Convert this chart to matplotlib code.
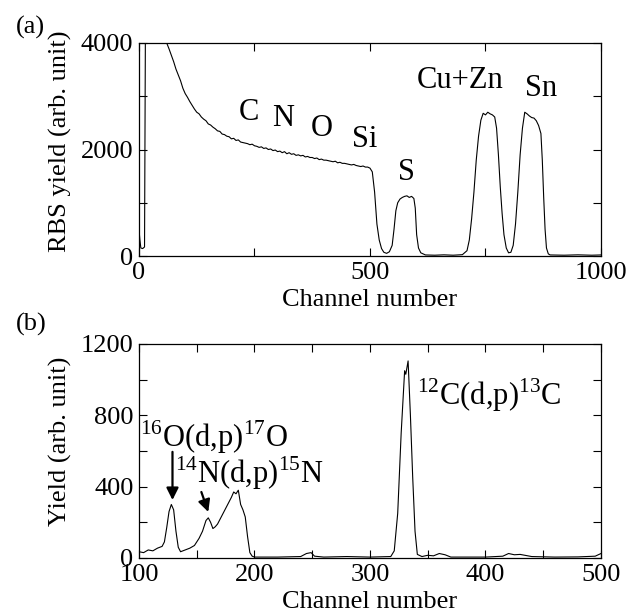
import matplotlib
matplotlib.use('Agg')
import matplotlib.pyplot as plt
from matplotlib.ticker import MultipleLocator

plt.rcParams['font.family'] = ['Liberation Serif', 'DejaVu Serif']
plt.rcParams['mathtext.fontset'] = 'custom'
plt.rcParams['mathtext.rm'] = 'Liberation Serif'

# (a) RBS spectrum
rbs_ch = [0, 2, 4, 8, 12, 14, 20, 40, 55, 60, 65, 70, 75, 80, 85, 90, 95, 100,
          105, 110, 115, 120, 125, 130, 135, 140, 145, 150, 155, 160, 165, 170,
          175, 180, 185, 190, 195, 200, 205, 210, 215, 220, 225, 230, 235, 240,
          245, 250, 255, 260, 265, 270, 275, 280, 285, 290, 295, 300, 305, 310,
          315, 320, 325, 330, 335, 340, 345, 350, 355, 360, 365, 370, 375, 380,
          385, 390, 395, 400, 405, 410, 415, 420, 425, 430, 435, 440, 445, 450,
          455, 460, 465, 470, 475, 480, 485, 490, 495, 500, 505, 510, 515, 520,
          525, 530, 536, 542, 548, 552, 556, 560, 565, 570, 575, 580, 585, 590,
          595, 598, 601, 605, 610, 620, 640, 660, 680, 700, 710, 715, 720, 725,
          730, 735, 740, 745, 750, 755, 760, 765, 770, 774, 778, 782, 786, 790,
          795, 800, 805, 810, 815, 820, 825, 830, 835, 840, 845, 850, 855, 860,
          865, 870, 873, 876, 879, 882, 886, 890, 920, 950, 980, 1000]
rbs_y = [490, 300, 150, 140, 170, 4500, 6000, 5000, 4300, 4000, 3890, 3770, 3650,
         3510, 3400, 3290, 3150, 3050, 2980, 2900, 2830, 2760, 2700, 2670, 2610,
         2570, 2540, 2480, 2460, 2420, 2390, 2350, 2340, 2290, 2280, 2250, 2240,
         2200, 2210, 2170, 2180, 2140, 2130, 2120, 2110, 2090, 2100, 2070, 2060,
         2040, 2050, 2020, 2030, 2000, 2010, 1980, 1990, 1960, 1970, 1940, 1960,
         1920, 1940, 1910, 1920, 1890, 1900, 1880, 1890, 1860, 1870, 1850, 1850,
         1830, 1840, 1810, 1820, 1800, 1800, 1790, 1780, 1770, 1780, 1750, 1760,
         1740, 1740, 1730, 1720, 1710, 1720, 1700, 1690, 1680, 1690, 1670, 1670,
         1650, 1580, 1200, 600, 300, 140, 70, 50, 80, 200, 500, 850, 1000, 1070,
         1100, 1120, 1130, 1100, 1120, 1080, 900, 400, 150, 60, 20, 15, 22, 15,
         25, 100, 300, 700, 1200, 1800, 2250, 2550, 2680, 2650, 2700, 2670, 2650,
         2610, 2400, 1900, 1300, 800, 400, 150, 60, 70, 200, 600, 1200, 1900, 2400,
         2700, 2670, 2630, 2600, 2590, 2540, 2450, 2300, 1800, 1100, 500, 150, 40,
         20, 15, 22, 15, 20]

# (b) NRA spectrum
nra_ch = [100, 104, 108, 112, 116, 120, 122, 124, 126, 128, 130, 132, 134, 136,
          140, 144, 148, 152, 155, 158, 160, 162, 164, 166, 168, 172, 176, 180,
          182, 184, 186, 188, 190, 192, 194, 196, 198, 200, 220, 240, 245, 249,
          252, 260, 280, 300, 318, 321, 324, 327, 330, 331, 333, 335, 337, 339,
          341, 345, 350, 355, 360, 365, 370, 400, 415, 420, 425, 430, 440, 460,
          480, 495, 500]
nra_y = [35, 30, 45, 40, 55, 65, 90, 170, 260, 300, 270, 150, 60, 35, 45, 55, 70,
         110, 150, 210, 225, 200, 165, 175, 190, 240, 290, 340, 370, 360, 380,
         300, 270, 230, 120, 30, 10, 5, 5, 8, 25, 30, 10, 5, 8, 5, 8, 40, 250, 700,
         1050, 1030, 1105, 800, 450, 150, 20, 8, 15, 12, 25, 18, 5, 5, 10, 25, 18,
         20, 8, 5, 6, 10, 25]

rbs_labels = ['C', 'N', 'O', 'Si', 'S', 'Cu+Zn', 'Sn']
rbs_label_x = [237, 312, 396, 489, 578, 695, 870]
rbs_label_y = [2700, 2590, 2400, 2180, 1560, 3290, 3150]

fig = plt.figure(figsize=(6.42, 6.16), dpi=100)
ax1 = fig.add_axes([0.2165, 0.5844, 0.7196, 0.3458])
ax2 = fig.add_axes([0.2165, 0.0942, 0.7196, 0.3474])

for ax in (ax1, ax2):
    ax.tick_params(which='both', direction='in', top=True, right=True,
                   labelsize=19, width=0.8)
    ax.tick_params(which='major', length=6, pad=4)
    ax.tick_params(which='minor', length=6)
    for sp in ax.spines.values():
        sp.set_linewidth(0.9)
    ax.set_xlabel('Channel number', fontsize=19, labelpad=4)

ax1.plot(rbs_ch, rbs_y, color='black', lw=0.8)
ax1.set_xlim(0, 1000)
ax1.set_ylim(0, 4000)
ax1.xaxis.set_major_locator(MultipleLocator(500))
ax1.xaxis.set_minor_locator(MultipleLocator(250))
ax1.yaxis.set_major_locator(MultipleLocator(2000))
ax1.yaxis.set_minor_locator(MultipleLocator(1000))
ax1.set_ylabel('RBS yield (arb. unit)', fontsize=19)
ax1.yaxis.set_label_coords(-0.145, 0.54)
for t, x, y in zip(rbs_labels, rbs_label_x, rbs_label_y):
    ax1.text(x, y, t, fontsize=22, ha='center', va='center')

ax2.plot(nra_ch, nra_y, color='black', lw=0.8)
ax2.set_xlim(100, 500)
ax2.set_ylim(0, 1200)
ax2.xaxis.set_major_locator(MultipleLocator(100))
ax2.xaxis.set_minor_locator(MultipleLocator(50))
ax2.yaxis.set_major_locator(MultipleLocator(400))
ax2.yaxis.set_minor_locator(MultipleLocator(200))
ax2.set_ylabel('Yield (arb. unit)', fontsize=19)
ax2.yaxis.set_label_coords(-0.145, 0.547)

ax2.text(101, 623, r'$^{16}$O(d,p)$^{17}$O', fontsize=22, ha='left', va='baseline')
ax2.text(131, 420, r'$^{14}$N(d,p)$^{15}$N', fontsize=22, ha='left', va='baseline')
ax2.text(341, 858, r'$^{12}$C(d,p)$^{13}$C', fontsize=22, ha='left', va='baseline')

arrow = dict(arrowstyle='-|>', color='black', lw=1.6, mutation_scale=18,
             shrinkA=0, shrinkB=0)
ax2.annotate('', xy=(129, 325), xytext=(129, 595), arrowprops=arrow)
ax2.annotate('', xy=(160, 258), xytext=(154, 370), arrowprops=arrow)

fig.text(0.024, 0.955, '(a)', fontsize=19, ha='left', va='center')
fig.text(0.025, 0.474, '(b)', fontsize=19, ha='left', va='center')

fig.savefig('out.png', dpi=100)
